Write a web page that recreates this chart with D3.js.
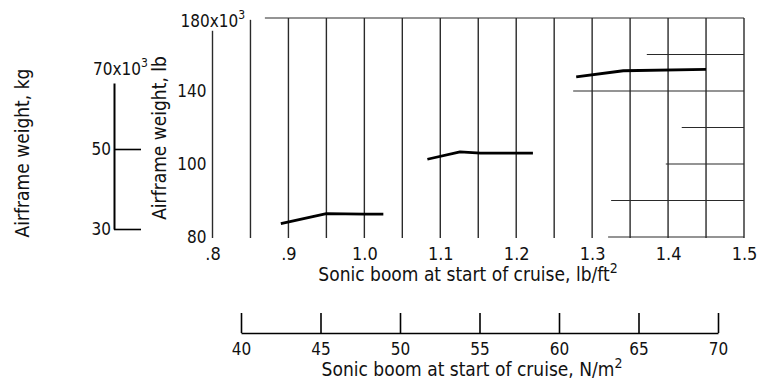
<!DOCTYPE html>
<html>
<head>
<meta charset="utf-8">
<script src="https://cdn.jsdelivr.net/npm/d3@7/dist/d3.min.js"></script>
<style>
    html, body { margin: 0; padding: 0; background: #fff; }
    svg { display: block; }
    text {
        font-family: "DejaVu Sans Condensed", "DejaVu Sans", sans-serif;
        font-stretch: condensed;
        fill: #111;
    }
</style>
</head>
<body>
<div class="chart-container"></div>
<script>
'use strict';

// Airframe weight (10^3 lb) against sonic boom at start of cruise (lb/ft2), one run per segment
const boomLow = [0.89, 0.95, 1.0, 1.025];
const weightLow = [67.3, 72.8, 72.5, 72.5];
const boomMid = [1.083, 1.126, 1.153, 1.222];
const weightMid = [102.6, 106.6, 106.0, 106.0];
const boomHigh = [1.279, 1.341, 1.45];
const weightHigh = [147.8, 151.1, 151.8];

// grid: vertical lines every .05 lb/ft2, top end of each (10^3 lb)
const gridBoom = [0.8, 0.85, 0.9, 0.95, 1.0, 1.05, 1.1, 1.15, 1.2, 1.25, 1.3, 1.35, 1.4, 1.45, 1.5];
const gridBoomTop = [173, 179, 180, 180, 180, 180, 180, 180, 180, 180, 180, 180, 180, 180, 180];
// grid: horizontal lines, only drawn from some boom value to the right edge
const gridWeight = [180, 160, 140, 120, 100, 80, 60];
const gridWeightFrom = [0.869, 1.372, 1.275, 1.418, 1.397, 1.325, 1.321];

// ticks
const boomTicks = [0.8, 0.9, 1.0, 1.1, 1.2, 1.3, 1.4, 1.5];
const boomTickLabels = ['.8', '.9', '1.0', '1.1', '1.2', '1.3', '1.4', '1.5'];
const weightTicks = [60, 100, 140, 180];
const weightTickLabels = ['80', '100', '140', '180'];
const kgTicks = [30, 50, 70];
const kgTickLabels = ['30', '50', '70'];
const pascalTicks = [40, 45, 50, 55, 60, 65, 70];
const pascalTickLabels = ['40', '45', '50', '55', '60', '65', '70'];

const width = 757,
    height = 385,

    // Styles
    gridColor = '#2a2a2a',
    lineColor = '#000',
    tickFontSize = 18,
    sideTickFontSize = 17,
    titleFontSize = 19;

let svg = d3.select('.chart-container')
    .append('svg')
    .attr('width', width)
    .attr('height', height)
    .style('background', '#fff');

let x = d3.scaleLinear().domain([0.8, 1.5]).range([212.5, 744]),
    y = d3.scaleLinear().domain([60, 180]).range([237, 18]),
    kgY = d3.scaleLinear().domain([30, 66.5]).range([229, 83]),
    pa = d3.scaleLinear().domain([40, 70]).range([241, 718]);

/**
 * Appends "x10" plus a superscript 3 to a tick text
 * @param  {D3Selection} textSel text element to extend
 */
function addExponent(textSel) {
    textSel.append('tspan').text('x10');
    textSel.append('tspan')
        .attr('dy', -8)
        .style('font-size', '12px')
        .text('3');
}

/**
 * Adds a title with a superscript unit exponent
 */
function addTitle(parent, base, sup, attrs) {
    let t = parent.append('text')
        .style('font-size', titleFontSize + 'px');

    Object.keys(attrs).forEach(k => t.attr(k, attrs[k]));
    t.append('tspan').text(base);
    if (sup) {
        t.append('tspan')
            .attr('dy', -8)
            .style('font-size', '14px')
            .text(sup);
    }
    return t;
}

function drawGrid() {
    let grid = svg.append('g').classed('grid', true);

    grid.selectAll('.v-line')
        .data(gridBoom)
      .enter().append('line')
        .classed('v-line', true)
        .attr('x1', d => x(d))
        .attr('x2', d => x(d))
        .attr('y1', (d, i) => y(gridBoomTop[i]))
        .attr('y2', y(60) + 1)
        .attr('stroke', gridColor)
        .attr('stroke-width', 1.4);

    grid.selectAll('.h-line')
        .data(gridWeight)
      .enter().append('line')
        .classed('h-line', true)
        .attr('x1', (d, i) => x(gridWeightFrom[i]))
        .attr('x2', x(1.5))
        .attr('y1', d => y(d))
        .attr('y2', d => y(d))
        .attr('stroke', gridColor)
        .attr('stroke-width', 1.2);
}

function drawLines() {
    let line = d3.line()
        .x(d => x(d[0]))
        .y(d => y(d[1]));

    let runs = [
        d3.zip(boomLow, weightLow),
        d3.zip(boomMid, weightMid),
        d3.zip(boomHigh, weightHigh)
    ];

    svg.append('g').classed('lines', true)
        .selectAll('path')
        .data(runs)
      .enter().append('path')
        .attr('d', line)
        .attr('fill', 'none')
        .attr('stroke', lineColor)
        .attr('stroke-width', 2.8)
        .attr('stroke-linejoin', 'round');
}

function drawAxes() {
    // lb/ft2 along the bottom of the grid
    let xAxis = svg.append('g')
        .attr('transform', `translate(0, ${y(60)})`)
        .call(d3.axisBottom(x)
            .tickValues(boomTicks)
            .tickSize(0)
            .tickPadding(10)
            .tickFormat((d, i) => boomTickLabels[i]));

    xAxis.select('.domain').remove();
    xAxis.selectAll('text')
        .style('font-size', tickFontSize + 'px')
        .style('font-family', null);

    // 10^3 lb on the left of the grid
    let yAxis = svg.append('g')
        .attr('transform', `translate(${x(0.8)}, 0)`)
        .call(d3.axisLeft(y)
            .tickValues(weightTicks)
            .tickSize(0)
            .tickPadding(6)
            .tickFormat((d, i) => weightTickLabels[i]));

    yAxis.select('.domain').remove();
    yAxis.selectAll('text')
        .style('font-size', sideTickFontSize + 'px')
        .style('font-family', null);
    yAxis.selectAll('.tick')
        .filter(d => d === 180)
        .select('text')
        .attr('text-anchor', 'start')
        .attr('x', -32)
        .attr('dy', '0.5em')
        .call(addExponent);

    // 10^3 kg, a separate scale at far left
    let kgAxis = svg.append('g')
        .attr('transform', 'translate(114, 0)')
        .call(d3.axisLeft(kgY)
            .tickValues(kgTicks)
            .tickSizeInner(-27)
            .tickSizeOuter(0)
            .tickPadding(3)
            .tickFormat((d, i) => kgTickLabels[i]));

    kgAxis.select('.domain')
        .attr('stroke', lineColor)
        .attr('stroke-width', 2);
    kgAxis.selectAll('.tick line')
        .attr('stroke', lineColor)
        .attr('stroke-width', 1.6);
    kgAxis.selectAll('text')
        .style('font-size', sideTickFontSize + 'px')
        .style('font-family', null);
    kgAxis.selectAll('.tick')
        .filter(d => d === 70)
        .call(t => t.select('line').remove())
        .select('text')
        .attr('text-anchor', 'start')
        .attr('x', -21)
        .call(addExponent);

    // N/m2 scale below
    let paAxis = svg.append('g')
        .attr('transform', 'translate(0, 333)')
        .call(d3.axisBottom(pa)
            .tickValues(pascalTicks)
            .tickSizeInner(-20)
            .tickSizeOuter(0)
            .tickPadding(10)
            .tickFormat((d, i) => pascalTickLabels[i]));

    paAxis.select('.domain')
        .attr('stroke', lineColor)
        .attr('stroke-width', 1.6);
    paAxis.selectAll('.tick line')
        .attr('stroke', lineColor)
        .attr('stroke-width', 1.6);
    paAxis.selectAll('text')
        .style('font-size', sideTickFontSize + 'px')
        .style('font-family', null);
}

function drawTitles() {
    addTitle(svg, 'Sonic boom at start of cruise,  lb/ft', '2', {
        x: 468, y: 281, 'text-anchor': 'middle'
    });
    addTitle(svg, 'Sonic boom at start of cruise,  N/m', '2', {
        x: 472, y: 376, 'text-anchor': 'middle'
    });
    addTitle(svg, 'Airframe weight,  lb', null, {
        transform: 'translate(166, 138) rotate(-90)', 'text-anchor': 'middle'
    });
    addTitle(svg, 'Airframe weight,  kg', null, {
        transform: 'translate(29, 153) rotate(-90)', 'text-anchor': 'middle'
    });
}

drawGrid();
drawLines();
drawAxes();
drawTitles();
</script>
</body>
</html>
